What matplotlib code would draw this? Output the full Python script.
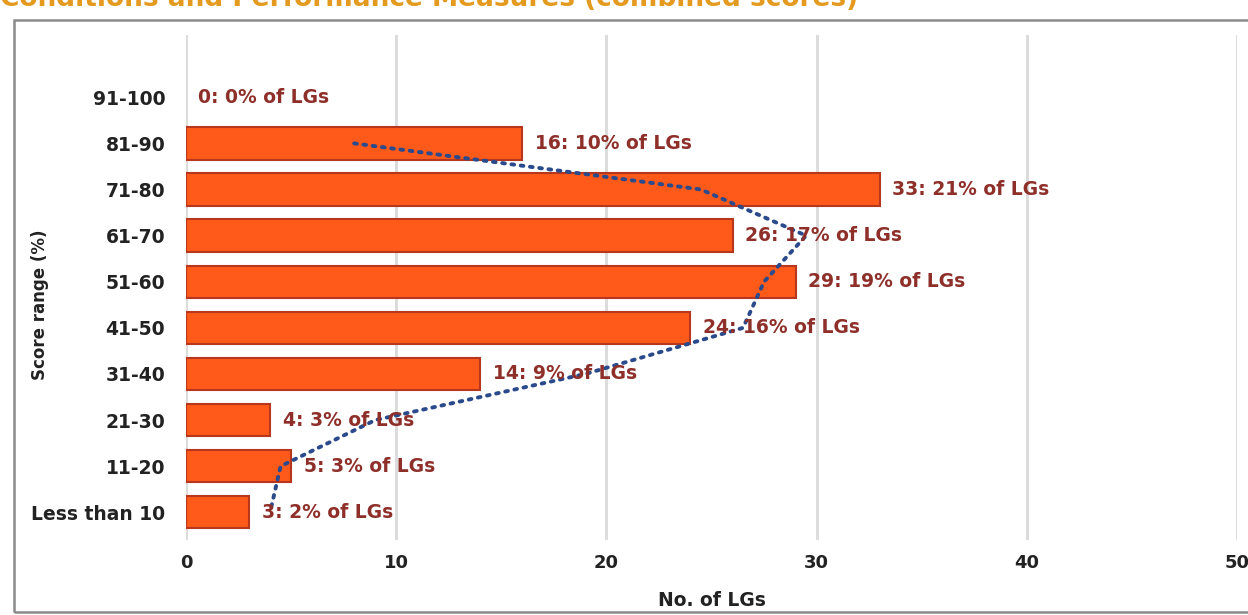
import matplotlib.pyplot as plt
from matplotlib.patches import Rectangle
import numpy as np

# Score bands, top to bottom as in the source table
ranges = ["91-100", "81-90", "71-80", "61-70", "51-60",
          "41-50", "31-40", "21-30", "11-20", "Less than 10"]
counts = [0, 16, 33, 26, 29, 24, 14, 4, 5, 3]
pcts = [0, 10, 21, 17, 19, 16, 9, 3, 3, 2]
xticks = [0, 10, 20, 30, 40, 50]

bar_color = "#ff5a1a"
edge_color = "#b8361c"
label_color = "#8e2f2a"
trend_color = "#2b4a8c"
text_color = "#222222"

plt.rcParams["font.family"] = ["DejaVu Sans"]

fig = plt.figure(figsize=(12.48, 6.15), dpi=100)
W, H = 1248, 615
ax = fig.add_axes([186 / W, 1 - 540 / H, 1051 / W, 505 / H])

# categories drawn bottom-up: "Less than 10" at y=0
n = len(ranges)
y = np.arange(n)[::-1]

ax.barh(y, counts, height=0.7, color=bar_color, edgecolor=edge_color,
        linewidth=[0 if c == 0 else 1.5 for c in counts], zorder=3)

for yi, c, p in zip(y, counts, pcts):
    ax.annotate(f"{c}: {p}% of LGs", xy=(c, yi), xytext=(9, 0),
                textcoords="offset points", va="center", ha="left",
                fontsize=13.5, fontweight="bold", color=label_color, zorder=5)

# 2-period moving average trendline over the table order
counts_arr = np.array(counts, dtype=float)
ma = (counts_arr[1:] + counts_arr[:-1]) / 2
ax.plot(ma, y[1:], linestyle=(0, (0.7, 1.7)), linewidth=2.8,
        color=trend_color, dash_capstyle="round", zorder=4)

ax.set_xlim(0, 50)
ax.set_ylim(-0.6, 10.35)
ax.set_xticks(xticks)
ax.set_xticklabels([str(t) for t in xticks], fontsize=13, fontweight="bold",
                   color=text_color)
ax.set_yticks(y)
ax.set_yticklabels(ranges, fontsize=13.5, fontweight="bold", color=text_color)
ax.tick_params(axis="both", length=0)
ax.tick_params(axis="x", pad=10)
ax.tick_params(axis="y", pad=15)

ax.grid(axis="x", color="#dcdcdc", linewidth=2.2, zorder=0)
for s in ax.spines.values():
    s.set_visible(False)

ax.set_xlabel("No. of LGs", fontsize=13.5, fontweight="bold", color=text_color,
              labelpad=14)
fig.text(40 / W, 1 - 305 / H, "Score range (%)", rotation=90, ha="center",
         va="center", fontsize=12, fontweight="bold", color=text_color)

# chart frame and the clipped heading above it
fig.patches.append(Rectangle((14 / W, 1 - 612 / H), 1.2, 592 / H,
                             transform=fig.transFigure, fill=False,
                             edgecolor="#8a8a8a", linewidth=1.8))
fig.text(0.0, 1 + 1 / H, "Conditions and Performance Measures (combined scores)",
         ha="left", va="center", fontsize=19, fontweight="bold",
         color="#e39a1e")

fig.savefig("out.png", dpi=100)
